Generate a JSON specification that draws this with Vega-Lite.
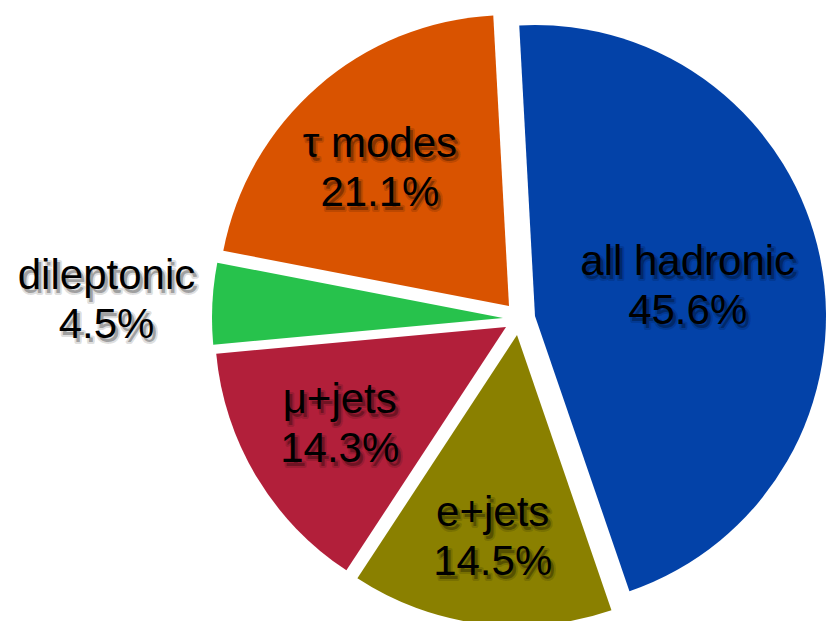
{
  "$schema": "https://vega.github.io/schema/vega-lite/v6.json",
  "width": 628,
  "height": 602,
  "autosize": "none",
  "padding": {"left": 198, "top": 19, "right": 0, "bottom": 0},
  "background": "white",
  "config": {"view": {"stroke": null}},
  "data": {
    "values": [
      {"ord": 1, "name": "all hadronic", "value": 45.6, "label": "all hadronic\n45.6%"},
      {"ord": 2, "name": "e+jets", "value": 14.5, "label": "e+jets\n14.5%"},
      {"ord": 3, "name": "μ+jets", "value": 14.3, "label": "μ+jets\n14.3%"},
      {"ord": 4, "name": "dileptonic", "value": 4.5, "label": "dileptonic\n4.5%"},
      {"ord": 5, "name": "τ modes", "value": 21.1, "label": "τ modes\n21.1%"}
    ]
  },
  "encoding": {
    "theta": {"field": "value", "type": "quantitative", "stack": true, "scale": {"domain": [0, 100], "range": [-0.0541, 6.2291]}},
    "order": {"field": "ord", "type": "quantitative"},
    "detail": {"field": "name", "type": "nominal"}
  },
  "layer": [
    {
      "mark": {"type": "arc", "radius": 291, "xOffset": 23, "yOffset": -4},
      "encoding": {
        "color": {"field": "name", "type": "nominal", "legend": null, "scale": {"domain": ["all hadronic", "e+jets", "μ+jets", "dileptonic", "τ modes"], "range": ["#0342A8", "#8A8000", "#B21F3A", "#27C24C", "#D95300"]}},
        "opacity": {"condition": {"test": "datum.name === 'all hadronic'", "value": 1}, "value": 0}
      }
    },
    {
      "mark": {"type": "arc", "radius": 291, "xOffset": 5, "yOffset": 15},
      "encoding": {
        "color": {"field": "name", "type": "nominal", "legend": null},
        "opacity": {"condition": {"test": "datum.name === 'e+jets'", "value": 1}, "value": 0}
      }
    },
    {
      "mark": {"type": "arc", "radius": 291, "xOffset": -6, "yOffset": 7},
      "encoding": {
        "color": {"field": "name", "type": "nominal", "legend": null},
        "opacity": {"condition": {"test": "datum.name === 'μ+jets'", "value": 1}, "value": 0}
      }
    },
    {
      "mark": {"type": "arc", "radius": 291, "xOffset": -9, "yOffset": -2},
      "encoding": {
        "color": {"field": "name", "type": "nominal", "legend": null},
        "opacity": {"condition": {"test": "datum.name === 'dileptonic'", "value": 1}, "value": 0}
      }
    },
    {
      "mark": {"type": "arc", "radius": 291, "xOffset": -3, "yOffset": -14},
      "encoding": {
        "color": {"field": "name", "type": "nominal", "legend": null},
        "opacity": {"condition": {"test": "datum.name === 'τ modes'", "value": 1}, "value": 0}
      }
    },
    {
      "mark": {"type": "text", "radius": 179, "dx": 3, "dy": -20, "font": "Liberation Sans", "fontSize": 42, "lineHeight": 49, "lineBreak": "\n", "align": "center", "baseline": "middle", "fill": "#000", "fillOpacity": 0.28, "stroke": "#000", "strokeWidth": 4, "strokeOpacity": 0.12, "strokeJoin": "round"},
      "encoding": {"text": {"field": "label"}, "opacity": {"condition": {"test": "datum.name === 'all hadronic'", "value": 1}, "value": 0}}
    },
    {
      "mark": {"type": "text", "radius": 219, "xOffset": 8, "dx": 3, "dy": -20, "font": "Liberation Sans", "fontSize": 42, "lineHeight": 49, "lineBreak": "\n", "align": "center", "baseline": "middle", "fill": "#000", "fillOpacity": 0.28, "stroke": "#000", "strokeWidth": 4, "strokeOpacity": 0.12, "strokeJoin": "round"},
      "encoding": {"text": {"field": "label"}, "opacity": {"condition": {"test": "datum.name === 'e+jets'", "value": 1}, "value": 0}}
    },
    {
      "mark": {"type": "text", "radius": 201, "dx": 3, "dy": -20, "font": "Liberation Sans", "fontSize": 42, "lineHeight": 49, "lineBreak": "\n", "align": "center", "baseline": "middle", "fill": "#000", "fillOpacity": 0.28, "stroke": "#000", "strokeWidth": 4, "strokeOpacity": 0.12, "strokeJoin": "round"},
      "encoding": {"text": {"field": "label"}, "opacity": {"condition": {"test": "datum.name === 'μ+jets' || datum.name === 'τ modes'", "value": 1}, "value": 0}}
    },
    {
      "mark": {"type": "text", "radius": 406, "dx": 3, "dy": -20, "font": "Liberation Sans", "fontSize": 42, "lineHeight": 49, "lineBreak": "\n", "align": "center", "baseline": "middle", "fill": "#000", "fillOpacity": 0.28, "stroke": "#000", "strokeWidth": 4, "strokeOpacity": 0.12, "strokeJoin": "round"},
      "encoding": {"text": {"field": "label"}, "opacity": {"condition": {"test": "datum.name === 'dileptonic'", "value": 1}, "value": 0}}
    },
    {
      "mark": {"type": "text", "radius": 179, "dy": -24, "font": "Liberation Sans", "fontSize": 42, "lineHeight": 49, "lineBreak": "\n", "align": "center", "baseline": "middle", "color": "#000"},
      "encoding": {"text": {"field": "label"}, "opacity": {"condition": {"test": "datum.name === 'all hadronic'", "value": 1}, "value": 0}}
    },
    {
      "mark": {"type": "text", "radius": 219, "xOffset": 8, "dy": -24, "font": "Liberation Sans", "fontSize": 42, "lineHeight": 49, "lineBreak": "\n", "align": "center", "baseline": "middle", "color": "#000"},
      "encoding": {"text": {"field": "label"}, "opacity": {"condition": {"test": "datum.name === 'e+jets'", "value": 1}, "value": 0}}
    },
    {
      "mark": {"type": "text", "radius": 201, "dy": -24, "font": "Liberation Sans", "fontSize": 42, "lineHeight": 49, "lineBreak": "\n", "align": "center", "baseline": "middle", "color": "#000"},
      "encoding": {"text": {"field": "label"}, "opacity": {"condition": {"test": "datum.name === 'μ+jets' || datum.name === 'τ modes'", "value": 1}, "value": 0}}
    },
    {
      "mark": {"type": "text", "radius": 406, "dy": -24, "font": "Liberation Sans", "fontSize": 42, "lineHeight": 49, "lineBreak": "\n", "align": "center", "baseline": "middle", "color": "#000"},
      "encoding": {"text": {"field": "label"}, "opacity": {"condition": {"test": "datum.name === 'dileptonic'", "value": 1}, "value": 0}}
    }
  ]
}
